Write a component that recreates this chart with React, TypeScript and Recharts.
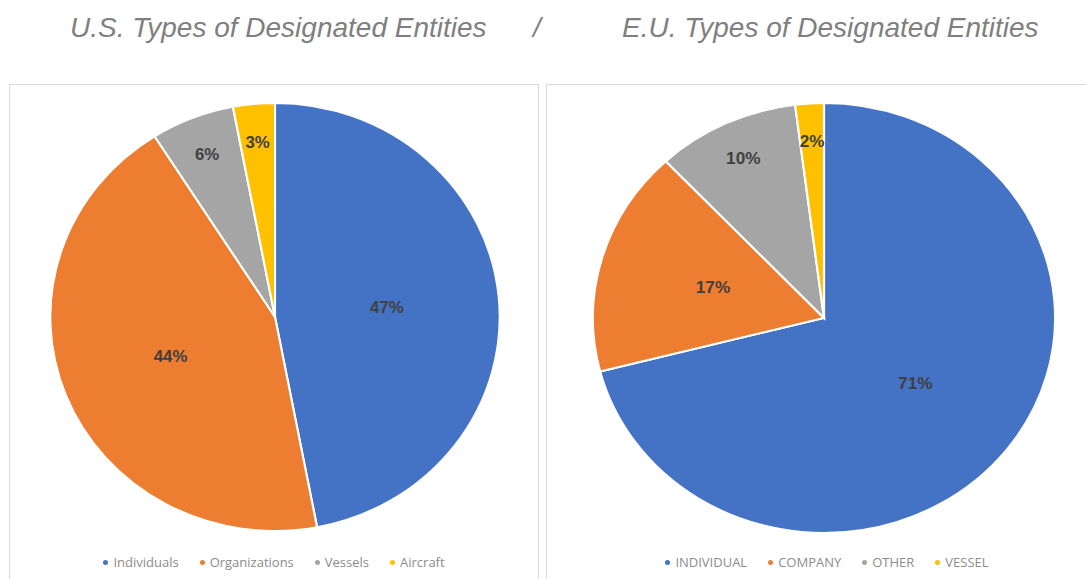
import { Cell, Legend, Pie, PieChart } from 'recharts'

const usCategories = ['Individuals', 'Organizations', 'Vessels', 'Aircraft']
const usValues = [47, 44, 6, 3]

const euCategories = ['INDIVIDUAL', 'COMPANY', 'OTHER', 'VESSEL']
const euValues = [71, 17, 10, 2]

const COLORS = ['#4472c4', '#ed7d31', '#a5a5a5', '#ffc000']
const FONT = '"Liberation Sans", Arial, sans-serif'
const LEGEND_FONT = '"Open Sans", sans-serif'

const RAD = Math.PI / 180

function renderLabel(props: any) {
  const { cx, cy, midAngle, outerRadius, percent, value } = props
  // small slices get pushed toward the rim, like Excel's best fit
  const r = outerRadius * (percent < 0.12 ? 0.82 : 0.5)
  const x = cx + r * Math.cos(-midAngle * RAD)
  const y = cy + r * Math.sin(-midAngle * RAD)
  return (
    <text
      x={x}
      y={y}
      fill="#404040"
      textAnchor="middle"
      dominantBaseline="central"
      style={{ fontFamily: FONT, fontSize: 16, fontWeight: 700 }}
    >
      {`${value}%`}
    </text>
  )
}

function LegendContent({ names }: { names: string[] }) {
  return (
    <div
      style={{
        display: 'flex',
        justifyContent: 'center',
        gap: 21,
        fontFamily: LEGEND_FONT,
        fontSize: 13,
        color: '#8c8c8c',
      }}
    >
      {names.map((n, i) => (
        <span key={n} style={{ display: 'flex', alignItems: 'center', gap: 5 }}>
          <span style={{ width: 5, height: 5, borderRadius: 3, background: COLORS[i], display: 'inline-block' }} />
          {n}
        </span>
      ))}
    </div>
  )
}

function Panel({
  names,
  values,
  left,
  width,
  cx,
  cy,
  ry,
  stretch,
}: {
  names: string[]
  values: number[]
  left: number
  width: number
  cx: number
  cy: number
  ry: number
  stretch: number
}) {
  const data = names.map((name, i) => ({ name, value: values[i] }))
  return (
    <div
      style={{
        position: 'absolute',
        left,
        top: 84,
        width,
        height: 520,
        border: '1px solid #d9d9d9',
        background: '#fff',
        overflow: 'hidden',
      }}
    >
      <div style={{ transform: `scaleX(${stretch})`, transformOrigin: `${cx}px 0px` }}>
        <PieChart width={width} height={500} margin={{ top: 0, right: 0, bottom: 0, left: 0 }}>
          <Pie
            data={data}
            dataKey="value"
            nameKey="name"
            cx={cx}
            cy={cy}
            outerRadius={ry}
            startAngle={90}
            endAngle={-270}
            stroke="#fff"
            strokeWidth={2}
            label={renderLabel}
            labelLine={false}
            isAnimationActive={false}
          >
            {data.map((d, i) => (
              <Cell key={d.name} fill={COLORS[i]} />
            ))}
          </Pie>
        </PieChart>
      </div>
      <div style={{ position: 'absolute', top: 468, left: 0, width }}>
        <PieChart width={width} height={24} margin={{ top: 0, right: 0, bottom: 0, left: 0 }}>
          <Legend wrapperStyle={{ top: 0 }} content={() => <LegendContent names={names} />} />
        </PieChart>
      </div>
    </div>
  )
}

export default function App() {
  return (
    <div
      style={{
        position: 'absolute',
        left: 0,
        top: 0,
        width: 1086,
        height: 579,
        overflow: 'hidden',
        background: '#fff',
        fontFamily: FONT,
      }}
    >
      <div
        style={{
          position: 'absolute',
          top: 12,
          left: 0,
          width: 1086,
          fontSize: 28,
          fontStyle: 'italic',
          color: '#7f7f7f',
          whiteSpace: 'pre',
        }}
      >
        <span style={{ position: 'absolute', left: 70 }}>U.S. Types of Designated Entities</span>
        <span style={{ position: 'absolute', left: 533 }}>/</span>
        <span style={{ position: 'absolute', left: 622 }}>E.U. Types of Designated Entities</span>
      </div>
      <Panel names={usCategories} values={usValues} left={9} width={528} cx={265} cy={232} ry={214} stretch={1.05} />
      <Panel names={euCategories} values={euValues} left={546} width={560} cx={277} cy={233} ry={215} stretch={1.075} />
    </div>
  )
}
